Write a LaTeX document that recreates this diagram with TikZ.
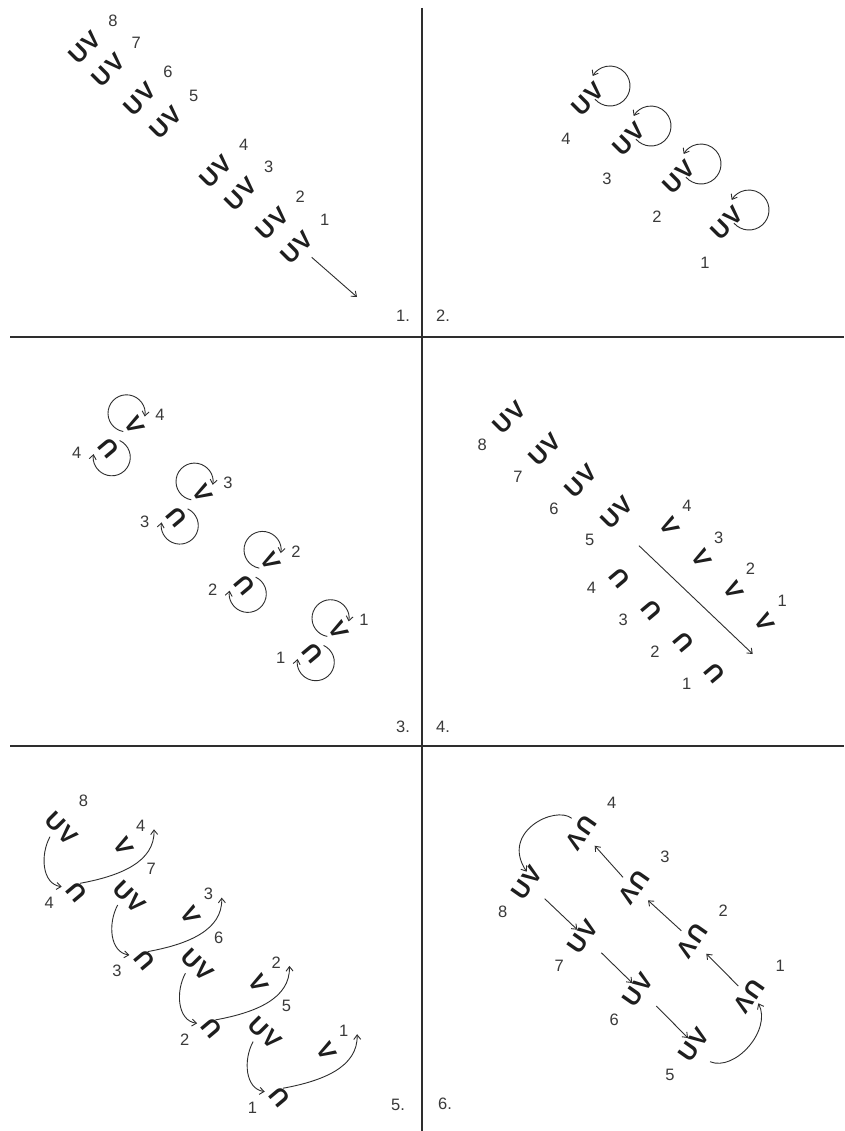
\documentclass[tikz,border=0pt]{standalone}
\usepackage{fontspec}
\setmainfont{Liberation Sans}
\usetikzlibrary{arrows.meta,calc}
\definecolor{ink}{HTML}{1E1E1E}
\definecolor{numc}{HTML}{3A3A3A}
\definecolor{linec}{HTML}{2E2E2E}
\tikzset{
  uv/.style={font=\fontsize{24}{24}\selectfont\bfseries, text=ink, inner sep=0pt},
  num/.style={font=\fontsize{16.5}{16.5}\selectfont, text=numc, inner sep=0pt},
  sep/.style={draw=linec, line width=1.6pt},
  arr/.style={draw=linec, line width=0.9pt, -{Straight Barb[length=4.5pt,width=7pt]}},
}
\begin{document}
\begin{tikzpicture}[x=1pt,y=-1pt]
\useasboundingbox (0,0) rectangle (844,1131);
\fill[white] (0,0) rectangle (844,1131);
% separators
\coordinate (vt) at (422,8); \coordinate (vb) at (422,1131);
\coordinate (h1l) at (10,337); \coordinate (h1r) at (844,337);
\coordinate (h2l) at (10,746); \coordinate (h2r) at (844,746);
\draw[sep] (vt) -- (vb);
\draw[sep] (h1l) -- (h1r);
\draw[sep] (h2l) -- (h2r);
% panel labels
\node[num] (L1) at (403,316) {1.};
\node[num] (L2) at (443,316) {2.};
\node[num] (L3) at (403,727) {3.};
\node[num] (L4) at (443,727) {4.};
\node[num] (L5) at (398,1105) {5.};
\node[num] (L6) at (445,1104) {6.};
% ---------- panel 1
\foreach \n/\x/\y in {8/85/47.5,7/108.3/70,6/140/99.2,5/165.8/122.5,4/215.7/171.7,3/240.7/194,2/272.3/223.3,1/296.7/247.3}{
  \node[uv,rotate=45] (a\n) at (\x,\y) {U\kern1.5pt V};
  \node[num] (an\n) at ($(a\n)+(28,-27)$) {\n};
}
\coordinate (aend) at (357,297);
\draw[arr] ($(a1)+(15,10)$) -- (aend);
% ---------- panel 2
\foreach \n/\x/\y in {4/588/99,3/629/139,2/679/177,1/727/223}{
  \node[uv,rotate=45] (b\n) at (\x,\y) {U\kern1.5pt V};
  \node[num] (bn\n) at ($(b\n)+(-22,40)$) {\n};
  \draw[arr] ($(b\n)+(22,-13)+(139:20)$) arc[start angle=139,end angle=-150,radius=20];
}
% ---------- panel 3
\foreach \n [evaluate=\n as \dx using (4-\n)*68, evaluate=\n as \dy using (4-\n)*68.3] in {4,3,2,1}{
  \node[uv,rotate=-60] (cv\n) at (135+\dx,425+\dy) {V};
  \node[num] (cvn\n) at ($(cv\n)+(25,-10)$) {\n};
  \draw[arr] ($(cv\n)+(-8.5,-11.7)+(100:18.5)$) arc[start angle=100,end angle=370,radius=18.5];
  \node[uv,rotate=130] (cu\n) at (108.3+\dx,448.3+\dy) {U};
  \node[num] (cun\n) at ($(cu\n)+(-31.6,5)$) {\n};
  \draw[arr] ($(cu\n)+(3.5,9)+(-65:18.5)$) arc[start angle=-65,end angle=190,radius=18.5];
}
% ---------- panel 4
\foreach \n/\x/\y in {8/509.3/417.3,7/545/449.3,6/581/481,5/616.7/512.7}{
  \node[uv,rotate=45] (d\n) at (\x,\y) {U\kern1.5pt V};
  \node[num] (dn\n) at ($(d\n)+(-27,27.5)$) {\n};
}
\foreach \n [evaluate=\n as \s using (4-\n)*31.7] in {4,3,2,1}{
  \node[uv,rotate=-60] (dv\n) at (670+\s,526.7+\s) {V};
  \node[num] (dvn\n) at ($(dv\n)+(17,-21)$) {\n};
  \node[uv,rotate=130] (du\n) at (620+\s,578.3+\s) {U};
  \node[num] (dun\n) at ($(du\n)+(-28.5,10)$) {\n};
}
\coordinate (dstart) at (639,545.7);
\coordinate (dend) at (752.7,654);
\draw[arr] (dstart) -- (dend);
% ---------- panel 5
\foreach \n [evaluate=\n as \dx using (4-\n)*67.7, evaluate=\n as \dy using (4-\n)*68.3, evaluate=\n as \m using int(\n+4)] in {4,3,2,1}{
  \node[uv,rotate=-45] (e\m) at (61.7+\dx,828.3+\dy) {U\kern1.5pt V};
  \node[num] (en\m) at ($(e\m)+(21.7,-27.5)$) {\m};
  \node[uv,rotate=-60] (ev\n) at (123.3+\dx,846.7+\dy) {V};
  \node[num] (evn\n) at ($(ev\n)+(17.4,-20.7)$) {\n};
  \node[uv,rotate=130] (eu\n) at (76.7+\dx,891.7+\dy) {U};
  \node[num] (eun\n) at ($(eu\n)+(-27.4,11)$) {\n};
  \draw[arr] ($(e\m)+(-11.7,8.4)$) .. controls ($(e\m)+(-21.7,26.7)$) and ($(eu\n)+(-34.7,-7.7)$) .. ($(eu\n)+(-15,-5)$);
  \draw[arr] ($(eu\n)+(3.3,-8.4)$) .. controls ($(eu\n)+(43.3,-15.7)$) and ($(ev\n)+(31.7,15.3)$) .. ($(ev\n)+(30.7,-17.4)$);
}
% ---------- panel 6
\foreach \n/\x/\y in {8/526.7/882.7,7/583.3/936.7,6/638.3/990,5/694/1045}{
  \node[uv,rotate=55] (f\n) at (\x,\y) {U\kern1.5pt V};
  \node[num] (fn\n) at ($(f\n)+(-24,29.5)$) {\n};
}
\foreach \n/\x/\y in {4/580.7/832.7,3/634/887.3,2/692.3/940.7,1/749.3/996}{
  \node[uv,rotate=235] (g\n) at (\x,\y) {U\kern1.5pt V};
  \node[num] (gn\n) at ($(g\n)+(31,-30)$) {\n};
}
\draw[arr] ($(f8)+(18,16)$) -- ($(f7)+(-6,-7)$);
\draw[arr] ($(f7)+(18,16)$) -- ($(f6)+(-6,-7)$);
\draw[arr] ($(f6)+(18,16)$) -- ($(f5)+(-6,-7)$);
\draw[arr] ($(g1)+(-11,-10)$) -- ($(g2)+(14,13)$);
\draw[arr] ($(g2)+(-11,-10)$) -- ($(g3)+(14,13)$);
\draw[arr] ($(g3)+(-11,-10)$) -- ($(g4)+(14,13)$);
\draw[arr] ($(g4)+(-9,-14.4)$) .. controls (555,805) and (500,832) .. ($(f8)+(0,-11)$);
\draw[arr] ($(f5)+(16,16.7)$) .. controls (735,1072) and (772,1030) .. ($(g1)+(9,7.3)$);
\end{tikzpicture}
\end{document}
